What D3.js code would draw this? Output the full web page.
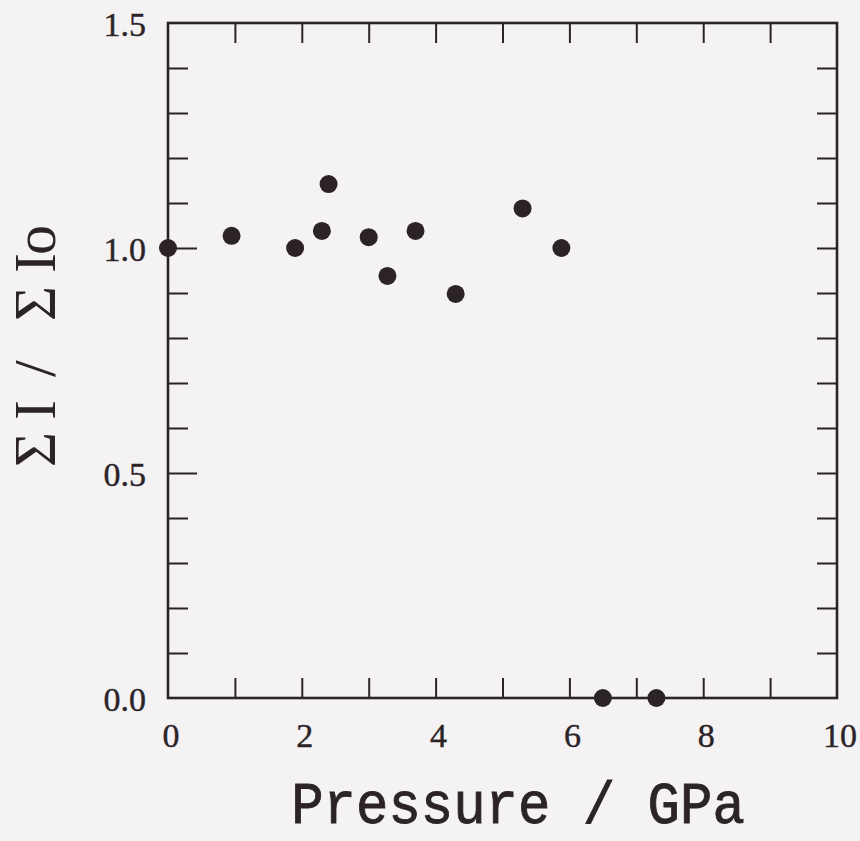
<!DOCTYPE html>
<html>
<head>
<meta charset="utf-8">
<script src="https://cdn.jsdelivr.net/npm/d3@7"></script>
<style>
  html, body { margin: 0; padding: 0; background: #f4f2f3; }
  svg { display: block; }
</style>
</head>
<body>
<svg id="chart" width="860" height="841"></svg>
<script>
// ---- data ----
const pressure = [0, 0.95, 1.9, 2.3, 2.4, 3.0, 3.28, 3.7, 4.3, 5.3, 5.88, 6.5, 7.3];
const ratio    = [1.0, 1.027, 1.0, 1.038, 1.142, 1.024, 0.938, 1.038, 0.898, 1.088, 1.0, 0.0, 0.0];
const xTickLabels = [0, 2, 4, 6, 8, 10];
const yTickLabels = [0.0, 0.5, 1.0, 1.5];
const xTitle = "Pressure / GPa";
const yTitleGlyphs = ["\u03A3", "I", "/", "\u03A3", "I", "o"];   // "ΣI / ΣIo"
const yTitleOffsets = [0, 47, 90, 146, 194, 212];

const ink = "#2b2327";
const svg = d3.select("#chart");
svg.append("rect").attr("width", 860).attr("height", 841).attr("fill", "#f4f2f3");

const x = d3.scaleLinear().domain([0, 10]).range([168, 837]);
const y = d3.scaleLinear().domain([0, 1.5]).range([698, 23]);

const xMinor = d3.range(1, 10);
const yMinor = d3.range(1, 15).map(d => +(d / 10).toFixed(1));

function styleAxis(g) {
  g.select(".domain").remove();
  g.selectAll(".tick line").attr("stroke", ink).attr("stroke-width", 2);
  g.selectAll(".tick text").remove();
}

// inward ticks
svg.append("g").attr("transform", `translate(0,${y(0)})`)
  .call(d3.axisBottom(x).tickValues(xMinor).tickSize(-20)).call(styleAxis);
svg.append("g").attr("transform", `translate(0,${y(1.5)})`)
  .call(d3.axisTop(x).tickValues(xMinor).tickSize(-20)).call(styleAxis);
const leftAx = svg.append("g").attr("transform", `translate(${x(0)},0)`)
  .call(d3.axisLeft(y).tickValues(yMinor).tickSize(-20)).call(styleAxis);
leftAx.selectAll(".tick").filter(d => Math.abs(d * 2 - Math.round(d * 2)) < 1e-6)
  .select("line").attr("x2", 29);
svg.append("g").attr("transform", `translate(${x(10)},0)`)
  .call(d3.axisRight(y).tickValues(yMinor).tickSize(-20)).call(styleAxis);

// frame
svg.append("rect")
  .attr("x", x(0)).attr("y", y(1.5))
  .attr("width", x(10) - x(0)).attr("height", y(0) - y(1.5))
  .attr("fill", "none").attr("stroke", ink).attr("stroke-width", 2.6);

// tick labels
svg.append("g").selectAll("text").data(xTickLabels).join("text")
  .attr("x", d => x(d) + 3).attr("y", y(0) + 49)
  .attr("text-anchor", "middle")
  .attr("font-family", "Liberation Serif, serif").attr("font-size", 34)
  .attr("fill", ink).attr("stroke", ink).attr("stroke-width", 0.4)
  .text(d => d);
svg.append("g").selectAll("text").data(yTickLabels).join("text")
  .attr("x", x(0) - 22).attr("y", d => y(d) + 13)
  .attr("text-anchor", "end")
  .attr("font-family", "Liberation Serif, serif").attr("font-size", 34)
  .attr("fill", ink).attr("stroke", ink).attr("stroke-width", 0.4)
  .text(d => d.toFixed(1));

// axis titles
svg.append("text")
  .attr("transform", "translate(518,823) scale(1,1.08)")
  .attr("text-anchor", "middle")
  .attr("font-family", "Liberation Mono, monospace").attr("font-size", 54)
  .attr("fill", ink).attr("stroke", ink).attr("stroke-width", 0.8)
  .text(xTitle);
svg.append("text")
  .attr("transform", "translate(55,467) rotate(-90)")
  .attr("font-family", "Liberation Serif, serif").attr("font-size", 60)
  .attr("fill", ink)
  .attr("x", yTitleOffsets.join(" "))
  .text(yTitleGlyphs.join(""));

// points
svg.append("g").selectAll("circle").data(pressure.map((p, i) => [p, ratio[i]])).join("circle")
  .attr("cx", d => x(d[0])).attr("cy", d => y(d[1])).attr("r", 9)
  .attr("fill", ink);
</script>
</body>
</html>
